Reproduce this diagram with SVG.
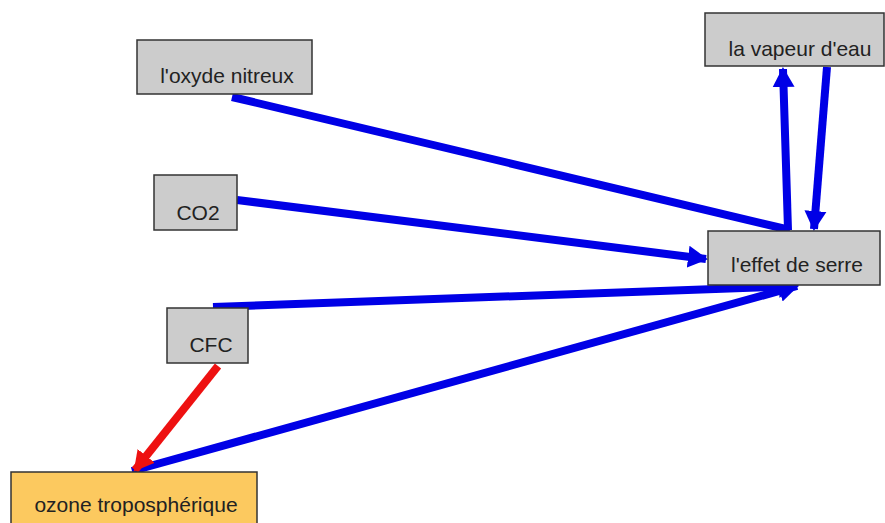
<svg xmlns="http://www.w3.org/2000/svg" width="885" height="523" viewBox="0 0 885 523">
<style>
.box{fill:#cccccc;stroke:#333333;stroke-width:1.5}
.oz{fill:#fcc95f;stroke:#333333;stroke-width:1.5}
.t{font-family:"Liberation Sans",Arial,sans-serif;font-size:21px;fill:#222222;text-anchor:middle}
.b{stroke:#0000e6;stroke-width:8;fill:none}
.r{stroke:#ee1111;stroke-width:8;fill:none}
</style>
<defs>
<marker id="hb" markerUnits="userSpaceOnUse" markerWidth="24" markerHeight="24" refX="18" refY="12" orient="auto" viewBox="0 0 24 24"><path d="M0,1 L20,12 L0,23 Z" fill="#0000e6"/></marker>
<marker id="hr" markerUnits="userSpaceOnUse" markerWidth="24" markerHeight="24" refX="18" refY="12" orient="auto" viewBox="0 0 24 24"><path d="M0,1 L20,12 L0,23 Z" fill="#ee1111"/></marker>
</defs>
<rect width="885" height="523" fill="#ffffff"/>
<g id="connectors">
<line class="b" x1="232" y1="97" x2="790" y2="230"/>
<line class="b" x1="237" y1="200" x2="706" y2="259" marker-end="url(#hb)"/>
<line class="b" x1="213" y1="307" x2="797" y2="286" marker-end="url(#hb)"/>
<line class="b" x1="132" y1="471" x2="797" y2="286" marker-end="url(#hb)"/>
<line class="r" x1="218" y1="366" x2="135" y2="470" marker-end="url(#hr)"/>
<line class="b" x1="788" y1="230" x2="783" y2="69" marker-end="url(#hb)"/>
<line class="b" x1="827" y1="67" x2="814" y2="229" marker-end="url(#hb)"/>
</g>
<g id="vapeur"><rect class="box" x="705" y="13" width="179" height="53"/><text class="t" x="800" y="56">la vapeur d'eau</text></g>
<g id="effet"><rect class="box" x="708" y="231" width="172" height="54"/><text class="t" x="797" y="272">l'effet de serre</text></g>
<g id="oxyde"><rect class="box" x="137" y="40" width="175" height="54"/><text class="t" x="227" y="83">l'oxyde nitreux</text></g>
<g id="co2"><rect class="box" x="154" y="175" width="83" height="55"/><text class="t" x="198" y="220">CO2</text></g>
<g id="cfc"><rect class="box" x="167" y="308" width="81" height="55"/><text class="t" x="211" y="352">CFC</text></g>
<g id="ozone"><rect class="oz" x="11" y="472" width="246" height="60"/><text class="t" x="136" y="512">ozone troposphérique</text></g>
</svg>
